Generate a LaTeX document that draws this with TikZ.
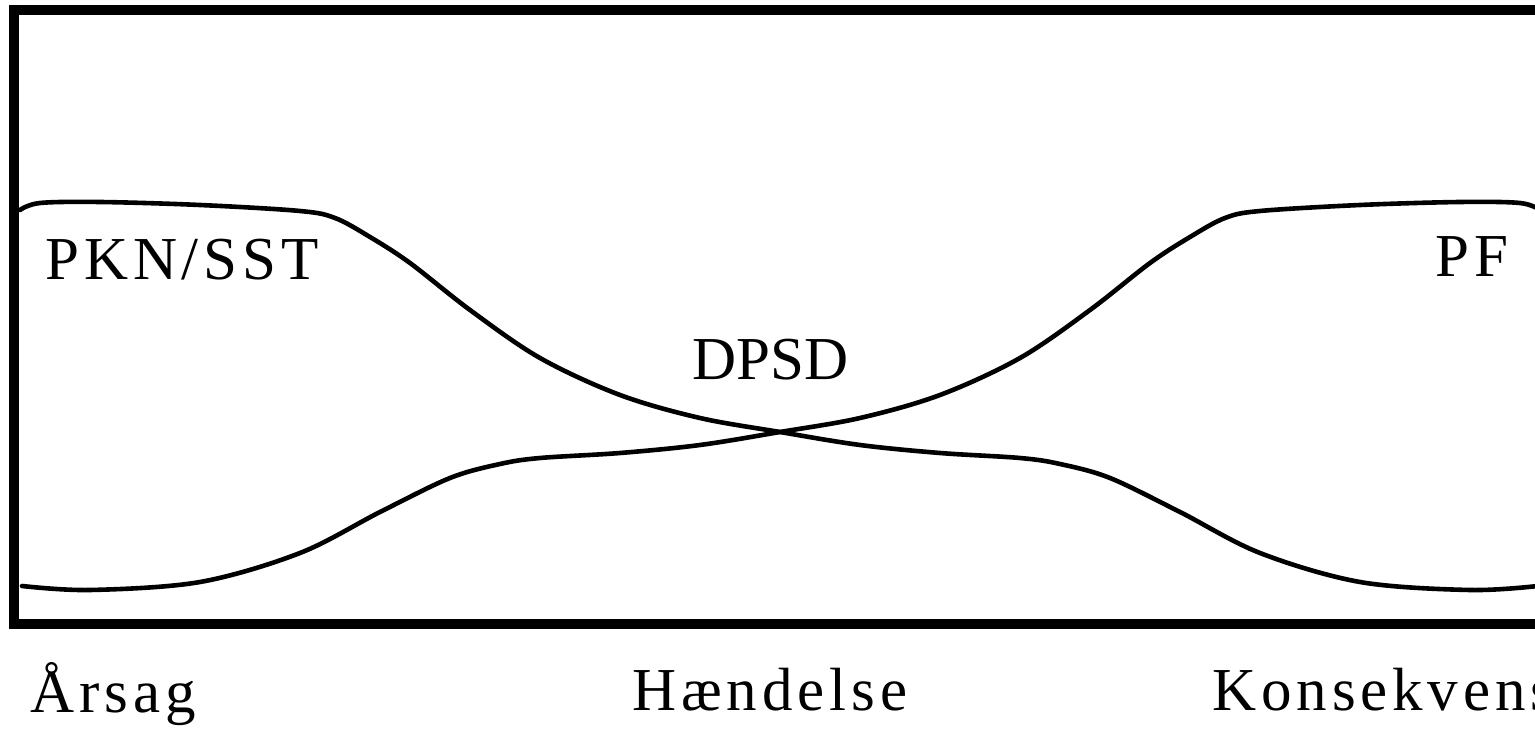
\documentclass[tikz,border=0pt]{standalone}
\usepackage{fontspec}
\setmainfont{Liberation Serif}
\newfontfamily\spaced[LetterSpace=8]{Liberation Serif}
\begin{document}
\begin{tikzpicture}[x=0.5pt,y=-0.5pt,
  frame/.style={line width=5pt,line cap=butt,line join=miter},
  curve/.style={line width=2.3pt,line cap=round},
  lbl/.style={inner sep=0pt,anchor=base west,font=\fontsize{30.5}{36}\selectfont},
  slbl/.style={inner sep=0pt,anchor=base west,font=\fontsize{30.5}{36}\selectfont\spaced}]
\useasboundingbox (0,0) rectangle (1535,731);
\begin{scope}
\clip (0,0) rectangle (1535,731);
\draw[frame] (1600,10) -- (14,10) -- (14,624) -- (1600,624);
% curve from upper left (PKN/SST) to lower right
\draw[curve] plot[smooth,tension=0.55] coordinates {
 (20,210) (40,203) (100,202) (200,205) (300,211) (335,218) (370,237) (410,263)
 (470,310) (540,358) (620,395) (700,418) (780,432) (860,445) (940,453)
 (1020,458) (1060,464) (1110,478) (1180,512) (1260,553) (1360,582)
 (1470,590) (1538,586)};
% mirrored curve from lower left to upper right (PF)
\begin{scope}[shift={(1560,0)},xscale=-1]
\draw[curve] plot[smooth,tension=0.55] coordinates {
 (20,210) (40,203) (100,202) (200,205) (300,211) (335,218) (370,237) (410,263)
 (470,310) (540,358) (620,395) (700,418) (780,432) (860,445) (940,453)
 (1020,458) (1060,464) (1110,478) (1180,512) (1260,553) (1360,582)
 (1470,590) (1538,586)};
\end{scope}
\end{scope}
\node[slbl] (pkn) at (45,280) {PKN/SST};
\node[lbl] (dpsd) at (692,380) {DPSD};
\node[slbl] (pf) at (1435,277) {PF};
\node[slbl] (aarsag) at (30,712) {Årsag};
\node[slbl] (haendelse) at (632,710) {Hændelse};
\node[slbl] (kons) at (1212,710) {Konsekvens};
\end{tikzpicture}
\end{document}
